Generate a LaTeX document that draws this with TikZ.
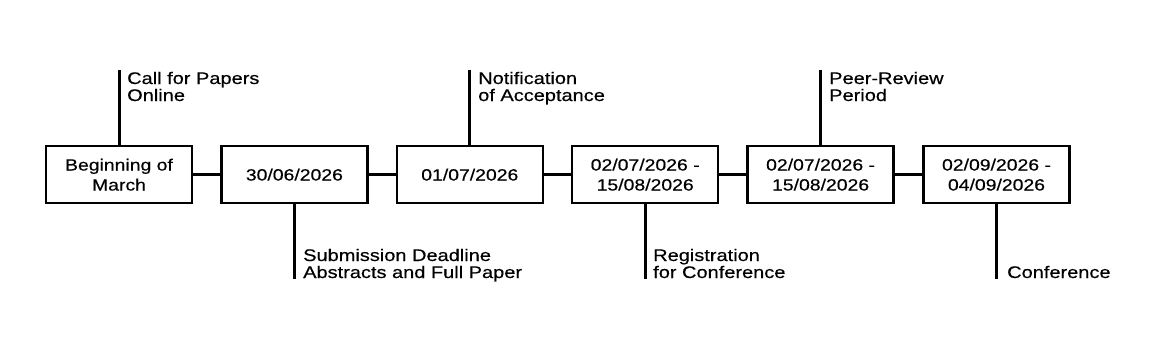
\documentclass[tikz,border=0pt]{standalone}
\usepackage{fontspec}
\setmainfont{Liberation Sans}[FakeStretch=1.19, FakeBold=0.4]
\begin{document}
\begin{tikzpicture}[x=1pt,y=-1pt,
  datebox/.style={draw=black, line width=2.5pt, minimum width=146pt, minimum height=57pt,
    inner sep=0pt, align=center, font=\fontsize{16.3}{20}\selectfont},
  label/.style={anchor=base west, align=left, inner sep=0pt, font=\fontsize{16.8}{17}\selectfont},
  link/.style={line width=3.3pt},
  stem/.style={line width=3pt}]
\useasboundingbox (0,0) rectangle (1150,345);
\fill[white] (0,0) rectangle (1150,345);
% boxes
\node[datebox] (b1) at (119.0,174.7) {Beginning of\\March};
\node[datebox] (b2) at (294.4,174.7) {30/06/2026};
\node[datebox] (b3) at (469.8,174.7) {01/07/2026};
\node[datebox] (b4) at (645.2,174.7) {02/07/2026 -\\15/08/2026};
\node[datebox] (b5) at (820.6,174.7) {02/07/2026 -\\15/08/2026};
\node[datebox] (b6) at (996.5,174.7) {02/09/2026 -\\04/09/2026};
% links
\draw[link] (b1.east) -- (b2.west);
\draw[link] (b2.east) -- (b3.west);
\draw[link] (b3.east) -- (b4.west);
\draw[link] (b4.east) -- (b5.west);
\draw[link] (b5.east) -- (b6.west);
% stems
\coordinate (t1) at (119.0,70);
\coordinate (t3) at (469.8,70);
\coordinate (t5) at (820.6,70);
\coordinate (d2) at (294.4,279);
\coordinate (d4) at (645.2,279);
\coordinate (d6) at (996.5,279);
\draw[stem] (b1.north) -- (t1);
\draw[stem] (b3.north) -- (t3);
\draw[stem] (b5.north) -- (t5);
\draw[stem] (b2.south) -- (d2);
\draw[stem] (b4.south) -- (d4);
\draw[stem] (b6.south) -- (d6);
% labels
\node[label] (l1) at (127,101) {Call for Papers\\Online};
\node[label] (l3) at (478,101) {Notification\\of Acceptance};
\node[label] (l5) at (829,101) {Peer-Review\\Period};
\node[label] (l2) at (303,278) {Submission Deadline\\Abstracts and Full Paper};
\node[label] (l4) at (653,278) {Registration\\for Conference};
\node[label] (l6) at (1007,278) {Conference};
\end{tikzpicture}
\end{document}
